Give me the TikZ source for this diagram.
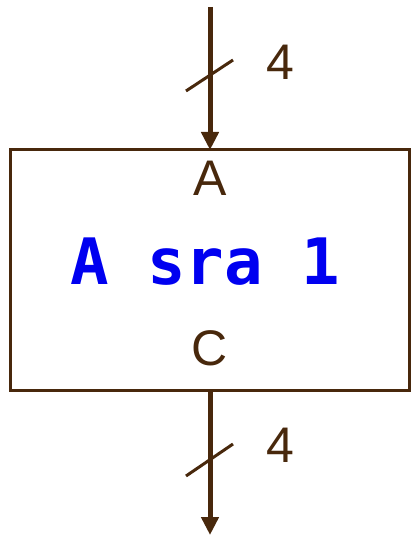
\documentclass[tikz,border=0pt]{standalone}
\usepackage{fontspec}
\setmainfont{Liberation Sans}
\newfontfamily\codefont{DejaVu Sans Mono}
\usetikzlibrary{arrows.meta}
\definecolor{wire}{RGB}{72,40,12}
\definecolor{codeblue}{RGB}{0,0,240}
\tikzset{
  wirearrow/.style={draw=wire, line width=5pt, -{Triangle[length=18pt,width=17pt]}},
  busslash/.style={draw=wire, line width=3pt},
  blockbox/.style={draw=wire, line width=3pt, rectangle, inner sep=0pt, minimum width=399pt, minimum height=240pt},
  lbl/.style={text=wire, font=\fontsize{50}{50}\selectfont, inner sep=0pt},
  codetext/.style={text=codeblue, font=\codefont\bfseries\fontsize{64}{64}\selectfont, inner sep=0pt}
}
\begin{document}
\begin{tikzpicture}[x=1pt,y=-1pt]
\useasboundingbox (0,0) rectangle (410,537);
\node[blockbox] (box) at (209.5,270) {};
\node[lbl] (inA) at (210,178) {A};
\node[lbl] (outC) at (210,348) {C};
\node[codetext] (op) at (205,262) {A sra 1};
\coordinate (src) at (210,7);
\coordinate (boxtop) at (210,150);
\coordinate (boxbot) at (210,390);
\coordinate (dst) at (210,535);
\draw[wirearrow] (src) -- (boxtop);
\draw[wirearrow] (boxbot) -- (dst);
\draw[busslash] (186,91) -- (233,60);
\draw[busslash] (186,476) -- (233,444);
\node[lbl] (w1) at (280,62) {4};
\node[lbl] (w2) at (280,445) {4};
\end{tikzpicture}
\end{document}
